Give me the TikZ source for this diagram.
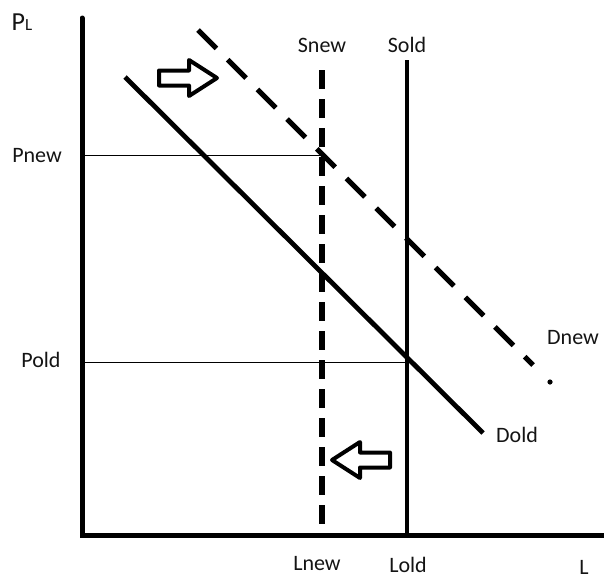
\documentclass[tikz,border=0pt]{standalone}
\usepackage{fontspec}
\setmainfont{Carlito}
\usetikzlibrary{calc}

\begin{document}
\begin{tikzpicture}[
  x=1pt, y=-1pt,
  font=\fontsize{22}{24}\selectfont,
  axis/.style={line width=5pt, line cap=round},
  curve/.style={line width=4.8pt},
  dcurve/.style={line width=5.5pt, dash pattern=on 19pt off 10pt},
  ddemand/.style={line width=5pt, dash pattern=on 26pt off 16pt},
  guide/.style={line width=1pt},
  lbl/.style={anchor=base, inner sep=0pt, text=black!92},
  shift/.pic={\draw[line width=4pt, line join=round] (0,-7.5) -- (30,-7.5) -- (30,-18) -- (58,0) -- (30,18) -- (30,7.5) -- (0,7.5) -- cycle;},
]
\useasboundingbox (0,0) rectangle (604,579);
% axes
\coordinate (origin) at (82,535);
\coordinate (ytop) at (82,18);
\coordinate (xend) at (606,535);
\draw[axis] (ytop) -- (origin) -- (xend);
% supply
\coordinate (soldtop) at (407,60);
\coordinate (soldbot) at (407,538);
\coordinate (snewtop) at (322,70);
\coordinate (snewbot) at (322,535);
\draw[curve] (soldtop) -- (soldbot);
\draw[dcurve] (snewtop) -- (snewbot);
% demand
\coordinate (doldtop) at (125,77);
\coordinate (doldbot) at (483,433);
\coordinate (dnewtop) at (198,30);
\coordinate (dnewbot) at (533,365);
\coordinate (dnewdot) at (550,382);
\draw[curve] (doldtop) -- (doldbot);
\draw[ddemand] (dnewtop) -- (dnewbot);
\fill (dnewdot) circle (2.6);
% price guides
\coordinate (pnewax) at (84,155);
\coordinate (pnewpt) at (322,155);
\coordinate (poldax) at (84,362);
\coordinate (poldpt) at (407,362);
\draw[guide] (pnewax) -- (pnewpt);
\draw[guide] (poldax) -- (poldpt);
% shifts
\pic at (159,78) {shift};
\pic[rotate=180] at (390,460) {shift};
% labels
\node[lbl] (pl) at (22,30) {{\fontsize{26}{28}\selectfont P}{\fontsize{17}{18}\selectfont L}};
\node[lbl] (snew) at (322,52) {Snew};
\node[lbl] (sold) at (407,52) {Sold};
\node[lbl] (pnew) at (37,162) {Pnew};
\node[lbl] (pold) at (41,367) {Pold};
\node[lbl] (dnew) at (573,344) {Dnew};
\node[lbl] (dold) at (517,442) {Dold};
\node[lbl] (lnew) at (317,570) {Lnew};
\node[lbl] (lold) at (408,572) {Lold};
\node[lbl] (l) at (584,574) {L};
\end{tikzpicture}
\end{document}
